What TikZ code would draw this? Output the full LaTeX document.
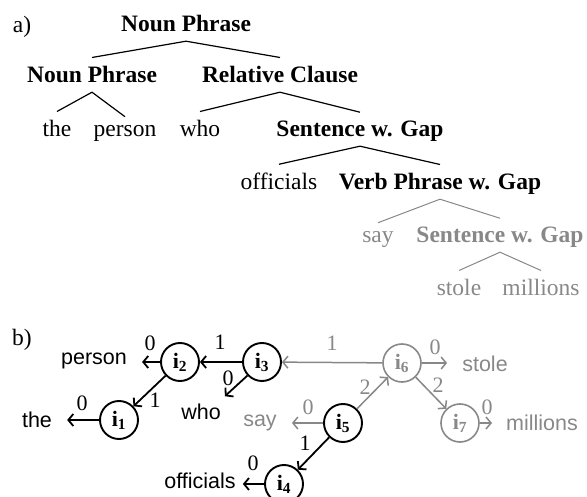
\documentclass[tikz,border=0pt]{standalone}
\usepackage{fontspec}
\setmainfont{Liberation Serif}
\newfontfamily\sansf{Liberation Sans}
\usetikzlibrary{arrows.meta,calc}
\definecolor{lg}{RGB}{136,136,136}
\begin{document}
\begin{tikzpicture}[x=1pt,y=-1pt,
  tn/.style={font=\fontsize{23.5}{28}\selectfont, inner xsep=2pt, inner ysep=9pt, text depth=0pt, anchor=base},
  tb/.style={tn, font=\fontsize{23.5}{28}\selectfont\bfseries},
  tl/.style={line width=1.2pt},
  gl/.style={line width=1pt, draw=lg},
  circ/.style={circle, draw, line width=1.9pt, minimum size=38pt, inner sep=0pt, font=\fontsize{22}{24}\selectfont\bfseries},
  gcirc/.style={circ, draw=lg, text=lg, line width=1.6pt},
  arr/.style={line width=1.8pt, -{Straight Barb[length=5pt,width=12pt]}},
  garr/.style={arr, draw=lg, line width=1.5pt},
  lab/.style={font=\fontsize{22}{24}\selectfont, inner sep=0pt},
  glab/.style={lab, text=lg},
  wd/.style={font=\sansf\fontsize{21.5}{24}\selectfont, inner sep=0pt, anchor=base},
  gwd/.style={wd, text=lg}]
\useasboundingbox (0,0) rectangle (587,497);
% ---- a) ----
\node[tn] (alab) at (22,33) {a)};
\node[tb] (np) at (186,32) {Noun Phrase};
\node[tb] (np2) at (92,83) {Noun Phrase};
\node[tb] (rc) at (280,83) {Relative Clause};
\node[tn] (the) at (57,137) {the};
\node[tn] (person) at (125,137) {person};
\node[tn] (who) at (200,137) {who};
\node[tb] (swg) at (360,137) {Sentence w. Gap};
\node[tn] (off) at (279,190) {officials};
\node[tb] (vp) at (440,190) {Verb Phrase w. Gap};
\node[tn, text=lg] (say) at (378,243) {say};
\node[tb, text=lg] (swg2) at (500,243) {Sentence w. Gap};
\node[tn, text=lg] (stole) at (459,296) {stole};
\node[tn, text=lg] (mill) at (541,296) {millions};
\draw[tl] (np2.north) -- (np.south) -- (rc.north);
\draw[tl] (the.north) -- (np2.south) -- (person.north);
\draw[tl] (who.north) -- (rc.south) -- (swg.north);
\draw[tl] (off.north) -- (swg.south) -- (vp.north);
\draw[gl] (say.north) -- (vp.south) -- (swg2.north);
\draw[gl] (stole.north) -- (swg2.south) -- (mill.north);
% ---- b) ----
\node[tn] (blab) at (22,345) {b)};
\node[circ] (i1) at (119,420) {i\textsubscript{1}};
\node[circ] (i2) at (180,362) {i\textsubscript{2}};
\node[circ] (i3) at (262,362) {i\textsubscript{3}};
\node[circ] (i4) at (284,484) {i\textsubscript{4}};
\node[circ] (i5) at (343,423) {i\textsubscript{5}};
\node[gcirc] (i6) at (402,363) {i\textsubscript{6}};
\node[gcirc] (i7) at (460,423) {i\textsubscript{7}};
\node[wd] (wperson) at (94,364) {person};
\node[wd] (wthe) at (37,427) {the};
\node[wd] (wwho) at (201,419) {who};
\node[gwd] (wsay) at (260,426) {say};
\node[wd] (woff) at (200,488) {officials};
\node[gwd] (wstole) at (485,372) {stole};
\node[gwd] (wmill) at (542,430) {millions};
\draw[arr] (i2.west) -- ($(wperson.east |- i2.west)+(15,0)$);
\draw[arr] (i1.west) -- ($(wthe.east |- i1.west)+(15,0)$);
\draw[arr] (i3.223) -- ($(wwho.north east)+(4,-7)$);
\draw[garr] (i5.west) -- ($(wsay.east |- i5.west)+(15,0)$);
\draw[arr] (i4.west) -- ($(woff.east |- i4.west)+(7,0)$);
\draw[garr] (i6.east) -- ($(wstole.west |- i6.east)+(-15,0)$);
\draw[garr] (i7.east) -- ($(wmill.west |- i7.east)+(-14,0)$);
\draw[arr] (i3) -- (i2);
\draw[arr] (i2) -- (i1);
\draw[garr] (i6) -- (i3);
\draw[garr] (i5) -- (i6);
\draw[garr] (i6) -- (i7);
\draw[arr] (i5) -- (i4);
\node[lab] (l1) at (150,343) {0};
\node[lab] (l2) at (220,342) {1};
\node[lab] (l3) at (228,378) {0};
\node[lab] (l4) at (155,400) {1};
\node[lab] (l5) at (82,403) {0};
\node[lab] (l6) at (253,463) {0};
\node[lab] (l7) at (305,443) {1};
\node[glab] (l8) at (308,407) {0};
\node[glab] (l9) at (365,387) {2};
\node[glab] (l10) at (332,343) {1};
\node[glab] (l11) at (435,347) {0};
\node[glab] (l12) at (438,385) {2};
\node[glab] (l13) at (487,407) {0};
\end{tikzpicture}
\end{document}
